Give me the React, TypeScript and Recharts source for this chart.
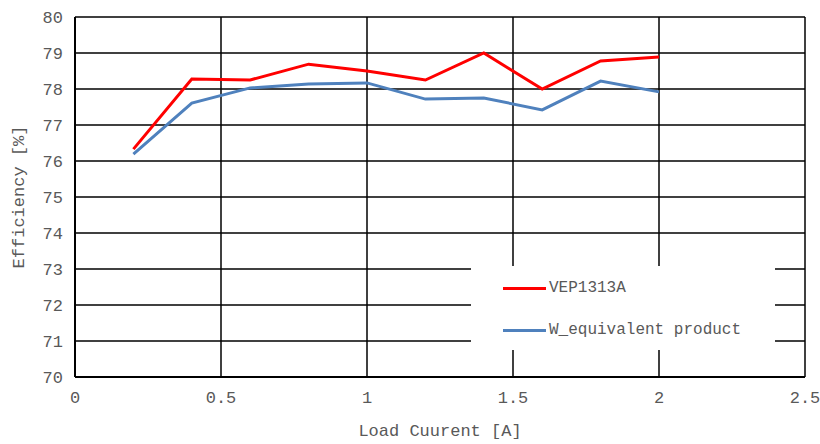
import { LineChart, Line, XAxis, YAxis, CartesianGrid } from "recharts";

// load current [A]
const loadCurrent = [0.2, 0.4, 0.6, 0.8, 1.0, 1.2, 1.4, 1.6, 1.8, 2.0];
// efficiency [%]
const vep1313a = [76.33, 78.28, 78.25, 78.69, 78.5, 78.25, 79.0, 78.0, 78.78, 78.89];
const wEquivalent = [76.19, 77.61, 78.03, 78.14, 78.17, 77.72, 77.75, 77.42, 78.22, 77.92];

const xTicks = [0, 0.5, 1, 1.5, 2, 2.5];
const yTicks = [70, 71, 72, 73, 74, 75, 76, 77, 78, 79, 80];

const series = [
  { key: "VEP1313A", color: "#ff0000", values: vep1313a },
  { key: "W_equivalent product", color: "#4f81bd", values: wEquivalent },
];

const data = loadCurrent.map((x, i) => {
  const row: any = { x };
  series.forEach((s) => (row[s.key] = s.values[i]));
  return row;
});

const FONT = "'Liberation Mono', 'DejaVu Sans Mono', monospace";
const TEXT = "#595959";

// legend sits over the plot, white box hides grid behind it
function LegendBox() {
  return (
    <div
      style={{
        position: "absolute",
        left: 471,
        top: 266,
        width: 304,
        height: 84,
        background: "#fff",
        fontFamily: FONT,
        fontSize: 16,
        color: TEXT,
      }}
    >
      {series.map((s, i) => (
        <div
          key={s.key}
          style={{ position: "absolute", left: 32, top: 12 + i * 42, height: 20, display: "flex", alignItems: "center" }}
        >
          <div style={{ width: 43, height: 3, background: s.color, marginRight: 3 }} />
          <span>{s.key}</span>
        </div>
      ))}
    </div>
  );
}

export default function App() {
  return (
    <div style={{ position: "absolute", left: 0, top: 0, width: 820, height: 444, background: "#fff" }}>
      <LineChart width={820} height={444} data={data} margin={{ top: 17, right: 15, bottom: 20, left: 20 }}>
        <CartesianGrid stroke="#000" strokeWidth={1.5} />
        <XAxis
          dataKey="x"
          type="number"
          domain={[0, 2.5]}
          ticks={xTicks}
          tickLine={false}
          axisLine={{ stroke: "#000", strokeWidth: 2 }}
          height={47}
          tick={{ fill: TEXT, fontFamily: FONT, fontSize: 17 }}
          tickMargin={8}
          label={{ value: "Load Cuurent [A]", position: "insideBottom", offset: -12, fill: TEXT, fontFamily: FONT, fontSize: 17 }}
        />
        <YAxis
          type="number"
          domain={[70, 80]}
          ticks={yTicks}
          interval={0}
          tickLine={false}
          axisLine={{ stroke: "#000", strokeWidth: 2 }}
          width={55}
          tick={{ fill: TEXT, fontFamily: FONT, fontSize: 17 }}
          tickMargin={6}
          label={{ value: "Efficiency [%]", angle: -90, position: "insideLeft", offset: -2, fill: TEXT, fontFamily: FONT, fontSize: 17, style: { textAnchor: "middle" } }}
        />
        {series.map((s) => (
          <Line
            key={s.key}
            dataKey={s.key}
            stroke={s.color}
            strokeWidth={3}
            dot={false}
            activeDot={false}
            isAnimationActive={false}
          />
        ))}
      </LineChart>
      <LegendBox />
    </div>
  );
}
